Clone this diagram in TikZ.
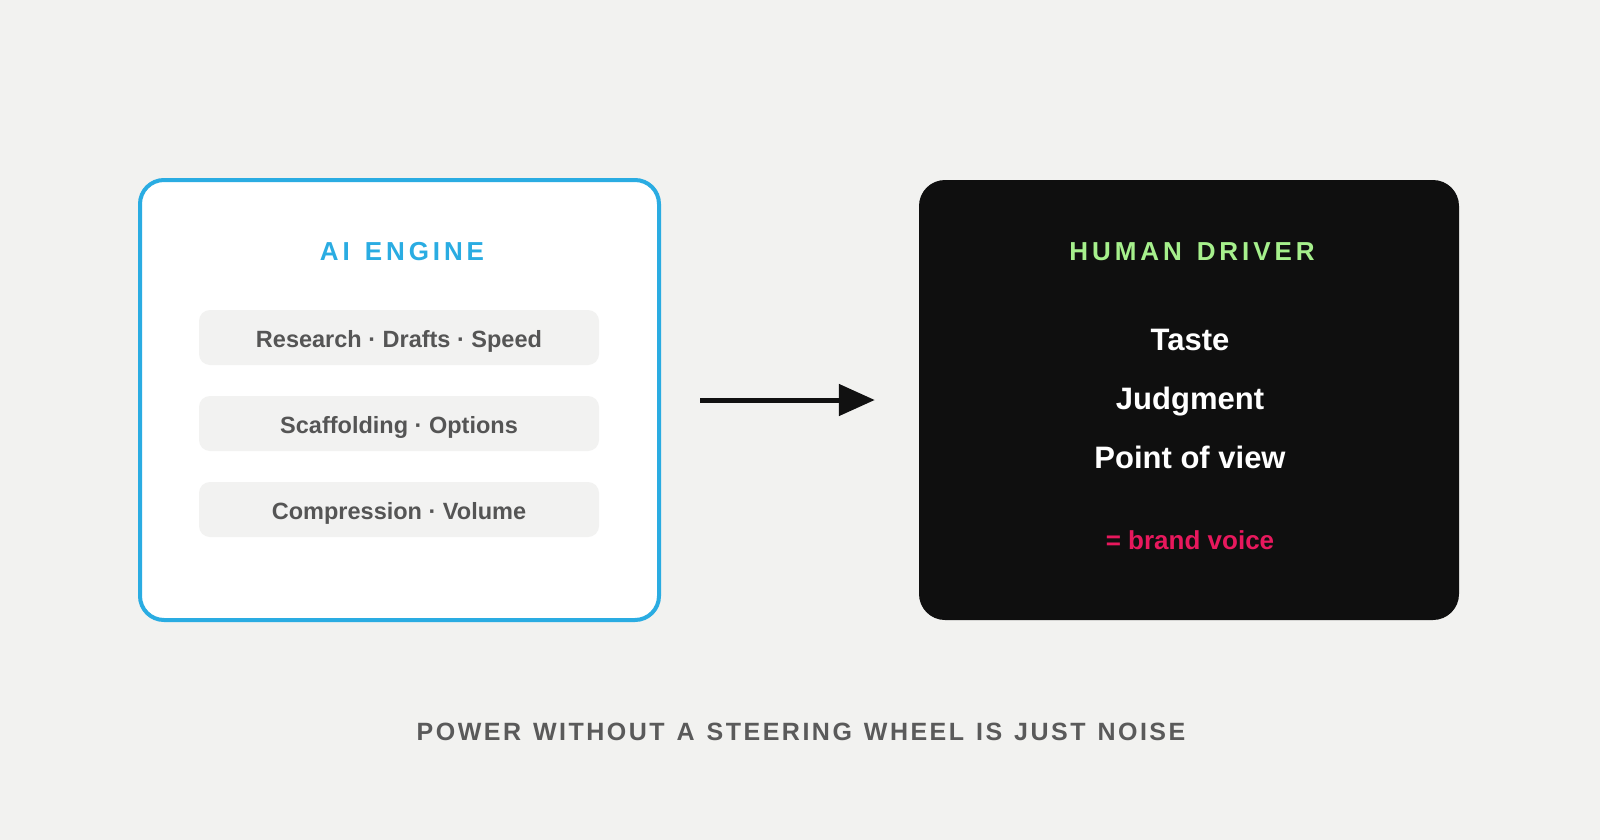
\documentclass[tikz,border=0pt]{standalone}
\usepackage{fontspec}
\setmainfont{Liberation Sans}
\newfontfamily\spacedfont{Liberation Sans}[LetterSpace=15]
\newfontfamily\footfont{Liberation Sans}[LetterSpace=10]
\usetikzlibrary{arrows.meta}
\definecolor{bgc}{HTML}{F2F2F0}
\definecolor{aiblue}{HTML}{2AACE2}
\definecolor{pillc}{HTML}{F2F2F1}
\definecolor{pilltext}{HTML}{555555}
\definecolor{darkbox}{HTML}{0F0F0F}
\definecolor{drivergreen}{HTML}{A6F08C}
\definecolor{brandpink}{HTML}{E8185D}
\definecolor{arrowc}{HTML}{111111}
\definecolor{foottext}{HTML}{5A5A5A}
\newcommand{\tsp}{\ \hspace{3.9pt}}
\newcommand{\fsp}{\ \hspace{2.5pt}}
\tikzset{
  enginebox/.style={draw=aiblue, line width=4pt, fill=white, rounded corners=24pt,
    minimum width=519pt, minimum height=440pt, inner sep=0pt},
  driverbox/.style={fill=darkbox, rounded corners=26pt,
    minimum width=540pt, minimum height=440pt, inner sep=0pt},
  pill/.style={fill=pillc, rounded corners=11pt, minimum width=400pt,
    minimum height=55pt, inner sep=0pt},
  pilllabel/.style={anchor=base, inner sep=0pt, text=pilltext,
    font=\fontsize{23.5}{28}\selectfont\bfseries},
  boxtitle/.style={anchor=base, inner sep=0pt,
    font=\spacedfont\fontsize{26}{30}\selectfont\bfseries},
  quality/.style={anchor=base, inner sep=0pt, text=white,
    font=\fontsize{31}{36}\selectfont\bfseries},
}
\begin{document}
\begin{tikzpicture}[x=1pt,y=-1pt]
\fill[bgc] (0,0) rectangle (1600,840);
\useasboundingbox (0,0) rectangle (1600,840);

% AI engine box
\node[enginebox] (engine) at (399.5,400) {};
\node[boxtitle, text=aiblue] (enginetitle) at (402,260) {AI\tsp ENGINE};
\node[pill] (p1) at (399,337.5) {};
\node[pill] (p2) at (399,423.5) {};
\node[pill] (p3) at (399,509.5) {};
\node[pilllabel] (t1) at (399,347.7) {Research · Drafts · Speed};
\node[pilllabel] (t2) at (399,433.7) {Scaffolding · Options};
\node[pilllabel] (t3) at (399,519.7) {Compression · Volume};

% Human driver box
\node[driverbox] (driver) at (1189,400) {};
\node[boxtitle, text=drivergreen] (drivertitle) at (1192,260) {HUMAN\tsp DRIVER};
\node[quality] (q1) at (1190,350) {Taste};
\node[quality] (q2) at (1190,409.5) {Judgment};
\node[quality] (q3) at (1190,468.5) {Point of view};
\node[anchor=base, inner sep=0pt, text=brandpink,
  font=\fontsize{26}{30}\selectfont\bfseries] (brand) at (1190,549.3) {= brand voice};

% connector
\draw[arrowc, line width=5pt, shorten <=39pt, shorten >=44pt,
  -{Triangle[length=36pt,width=31pt]}] (engine.east) -- (driver.west);

% footer
\node[anchor=base, inner sep=0pt, text=foottext,
  font=\footfont\fontsize{25}{30}\selectfont\bfseries] (footer) at (801,740)
  {POWER\fsp WITHOUT\fsp A\fsp STEERING\fsp WHEEL\fsp IS\fsp JUST\fsp NOISE};
\end{tikzpicture}
\end{document}
